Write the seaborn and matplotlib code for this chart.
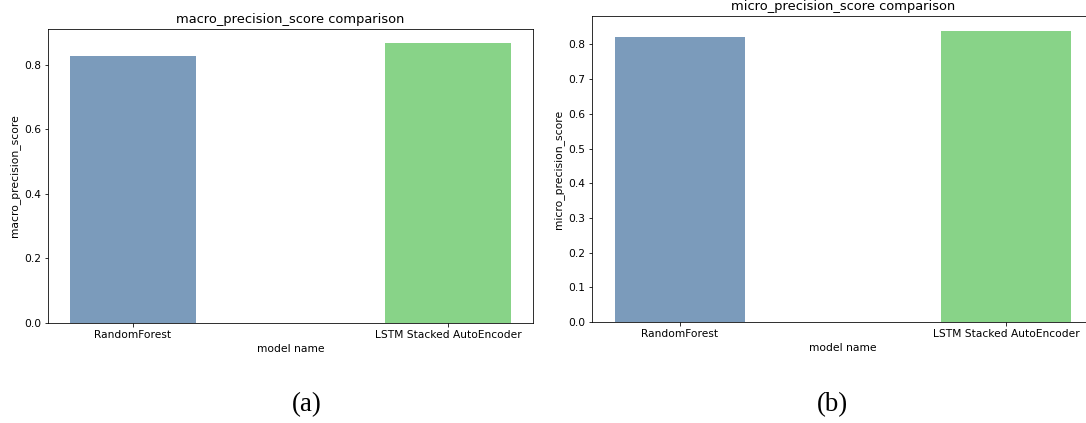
import matplotlib
matplotlib.use("Agg")
import matplotlib.pyplot as plt
import seaborn as sns
import pandas as pd

models = ["RandomForest", "LSTM Stacked AutoEncoder"]
macro_precision = [0.828, 0.868]
micro_precision = [0.822, 0.840]
bar_colors = ["#7b9bbb", "#88d388"]
panel_labels = ["(a)", "(b)"]

W, H, DPI = 1086, 423, 72
fig = plt.figure(figsize=(W / DPI, H / DPI), dpi=DPI)

def px_axes(left, right, top, bottom):
    return fig.add_axes([left / W, (H - bottom) / H, (right - left) / W, (bottom - top) / H])

ax1 = px_axes(48, 533, 29, 323)
ax2 = px_axes(592, 1094, 16, 322)

for ax, vals, metric in [(ax1, macro_precision, "macro_precision_score"),
                         (ax2, micro_precision, "micro_precision_score")]:
    df = pd.DataFrame({"model name": models, metric: vals})
    sns.barplot(data=df, x="model name", y=metric, hue="model name",
                palette=bar_colors, width=0.4, errorbar=None, legend=False,
                ax=ax, saturation=1)
    ax.set_xlim(-0.27, 1.27)
    ax.set_ylim(0, max(vals) * 1.05)
    ax.set_title(f"{metric} comparison", fontsize=13)
    ax.set_xlabel("model name", fontsize=10.8)
    ax.set_ylabel(metric, fontsize=10.8)
    ax.tick_params(labelsize=10.6)

fig.text(307 / W, 1 - 405 / H, panel_labels[0], family="Liberation Serif",
         fontsize=27, ha="center", va="center")
fig.text(832 / W, 1 - 405 / H, panel_labels[1], family="Liberation Serif",
         fontsize=27, ha="center", va="center")

fig.savefig("out.png", dpi=DPI)
